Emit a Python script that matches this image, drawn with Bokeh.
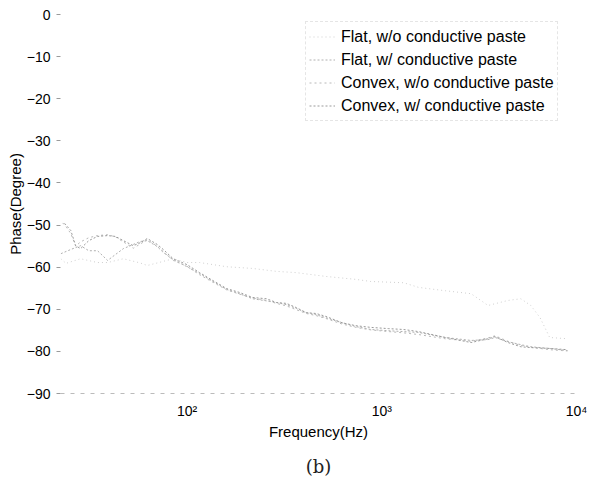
from bokeh.plotting import figure
from bokeh.models import (Range1d, FixedTicker, Legend, LegendItem, Title)
from bokeh.embed import file_html
from bokeh.resources import INLINE

# ---- data ----
freq_a = [23.5, 25.3, 26.8, 28.4, 31.3, 34.7, 39.1, 42.9, 47.1, 53.0, 57.5, 62.5, 70.3, 75.5, 84.9,
          100, 116, 136, 160, 186, 217, 256, 288, 324, 364, 409, 460, 517, 625, 736, 879,
          1086, 1295, 1545, 2120, 2876, 3513, 3819, 4449, 5180, 5826, 7283, 8990]
phase_a = [-49.6, -51.3, -54.9, -55.6, -53.7, -52.7, -52.5, -52.7, -53.7, -54.9, -54.2, -53.2, -54.6, -55.8, -58.0,
           -59.4, -61.3, -63.2, -65.1, -66.0, -67.2, -67.5, -68.4, -68.6, -69.6, -70.8, -71.0, -71.7, -73.2, -73.9, -74.3,
           -74.6, -74.8, -75.3, -76.7, -77.9, -77.0, -76.5, -77.9, -78.9, -79.1, -79.3, -79.6]

freq_b = [22.5, 25.3, 28.4, 31.3, 34.7, 39.1, 42.9, 47.1, 53.0, 57.5, 62.5, 70.3, 75.5, 84.9,
          100, 116, 136, 160, 186, 217, 256, 288, 324, 364, 409, 460, 517, 625, 736, 879,
          1086, 1295, 1545, 2120, 2876, 3513, 3819, 4449, 5180, 5826, 7283, 8990]
phase_b = [-56.8, -55.8, -54.9, -56.1, -56.1, -58.4, -57.0, -55.6, -54.6, -53.9, -53.7, -55.1, -56.5, -58.2,
           -59.9, -61.5, -63.4, -65.3, -66.3, -67.5, -68.0, -68.4, -68.9, -69.8, -70.8, -71.3, -72.0, -73.2, -74.1, -74.8,
           -75.1, -75.3, -75.5, -76.7, -77.4, -77.2, -76.7, -77.7, -78.4, -78.9, -79.3, -79.8]

freq_c = [22.5, 23.9, 28.4, 34.7, 39.1, 47.1, 57.5, 62.5, 70.3, 84.9, 100, 116, 160, 217, 288, 364,
          517, 736, 879, 1295, 1545, 2120, 2876, 3513, 4449, 5180, 5826, 6500, 7283, 8990]
phase_c = [-58.0, -59.1, -58.0, -58.9, -58.9, -58.0, -59.0, -59.6, -59.0, -58.0, -58.9, -58.9, -59.9, -60.3, -61.0, -61.3,
           -62.2, -62.9, -63.4, -63.7, -64.8, -65.6, -66.3, -69.1, -67.9, -67.5, -69.1, -72.0, -76.7, -77.0]

freq_d = [23.0, 24.0, 25.3, 26.8, 28.4, 31.3, 34.7, 39.1, 42.9, 47.1, 53.0, 57.5, 62.5, 70.3, 75.5, 84.9,
          100, 116, 136, 160, 186, 217, 256, 288, 324, 364, 409, 460, 517, 625, 736, 879,
          1086, 1295, 1545, 2120, 2876, 3513, 3819, 4449, 5180, 5826, 7283, 8990]
phase_d = [-49.5, -50.5, -52.0, -55.0, -54.0, -53.0, -52.5, -52.3, -52.8, -54.0, -55.5, -54.5, -53.5, -55.0, -56.3, -58.4,
           -59.8, -61.8, -63.6, -65.4, -66.4, -67.3, -67.9, -68.6, -69.2, -70.1, -71.0, -71.5, -72.2, -73.5, -74.3, -74.9,
           -75.3, -75.6, -76.0, -77.0, -77.6, -76.8, -76.3, -77.6, -78.6, -79.0, -79.6, -79.9]

labels = ["Flat, w/o conductive paste", "Flat, w/ conductive paste",
          "Convex, w/o conductive paste", "Convex, w/ conductive paste"]
y_ticks = [0, -10, -20, -30, -40, -50, -60, -70, -80, -90]
x_ticks = [100, 1000, 10000]
x_tick_labels = ["10\u00b2", "10\u00b3", "10\u2074"]

# ---- figure ----
FONT = "Liberation Sans"
p = figure(width=589, height=487, x_axis_type="log", output_backend="svg",
           toolbar_location=None, x_range=Range1d(22.4, 10000), y_range=Range1d(-90, 0),
           min_border_left=60, min_border_right=13, min_border_top=14, min_border_bottom=94)
p.outline_line_color = None
p.grid.visible = False
p.background_fill_color = "white"
p.border_fill_color = "white"

styles = [("#cfcfcf", "1 3"), ("#b0b0b0", "2 2"), ("#b8b8b8", "2 3"), ("#9a9a9a", "2 2")]
series = [(freq_c, phase_c), (freq_b, phase_b), (freq_d, phase_d), (freq_a, phase_a)]
items = []
for (fx, py), (col, dash), lab in zip(series, styles, labels):
    r = p.line(fx, py, line_color=col, line_width=1.0, line_dash=dash)
    items.append(LegendItem(label=lab, renderers=[r]))

legend = Legend(items=items, location=(245, 272), padding=3, spacing=0,
                label_height=23, glyph_height=23, glyph_width=26, label_standoff=6,
                label_text_font=FONT, label_text_font_size="16px", label_text_color="black",
                border_line_color="#cccccc", border_line_dash="2 4", border_line_width=1,
                background_fill_color="white", background_fill_alpha=1.0, margin=0)
p.add_layout(legend)

# y axis
ya = p.yaxis[0]
ya.ticker = FixedTicker(ticks=y_ticks)
ya.axis_line_color = None
ya.major_tick_line_color = "#9a9a9a"
ya.major_tick_out = 4
ya.major_tick_in = 0
ya.minor_tick_line_color = None
ya.major_label_standoff = 6
ya.major_label_text_font = FONT
ya.major_label_text_font_size = "14px"
ya.major_label_text_color = "black"
ya.axis_label = "Phase(Degree)"
ya.axis_label_text_font = FONT
ya.axis_label_text_font_size = "15px"
ya.axis_label_text_font_style = "normal"
ya.axis_label_text_color = "black"
ya.axis_label_standoff = 0

# x axis
xa = p.xaxis[0]
xa.ticker = FixedTicker(ticks=x_ticks)
xa.major_label_overrides = {t: s for t, s in zip(x_ticks, x_tick_labels)}
xa.axis_line_color = "#bbbbbb"
xa.axis_line_dash = "4 6"
xa.major_tick_line_color = None
xa.minor_tick_line_color = None
xa.major_label_standoff = 3
xa.major_label_text_font = FONT
xa.major_label_text_font_size = "14px"
xa.major_label_text_color = "black"
xa.axis_label = "Frequency(Hz)"
xa.axis_label_text_font = FONT
xa.axis_label_text_font_size = "15px"
xa.axis_label_text_font_style = "normal"
xa.axis_label_text_color = "black"
xa.axis_label_standoff = 1

cap = Title(text="(b)", align="center", text_font="DejaVu Serif", text_font_size="18px",
            text_font_style="normal", text_color="#222222", standoff=22)
p.add_layout(cap, "below")

open("out.html", "w").write(file_html(p, INLINE))
